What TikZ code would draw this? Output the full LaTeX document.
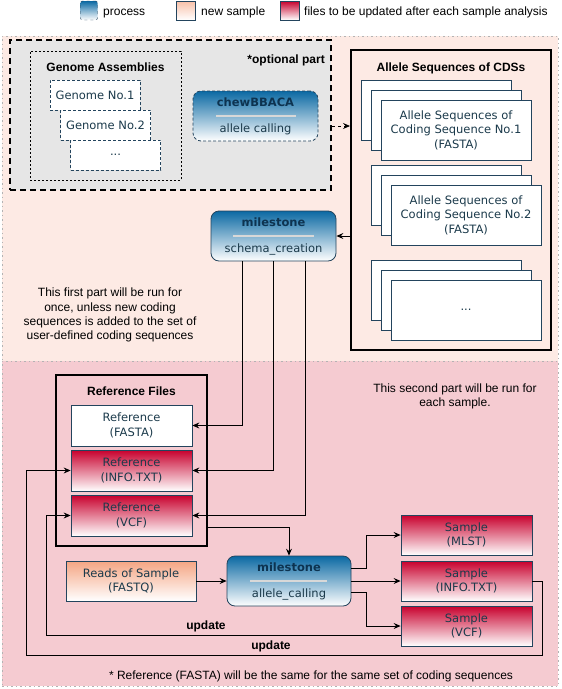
\documentclass[tikz,border=0pt]{standalone}
\usepackage{fontspec}
\setmainfont{Liberation Sans}
\newfontfamily\vfont{DejaVu Sans}
\usetikzlibrary{arrows.meta}
\definecolor{edgeC}{HTML}{23445D}
\definecolor{txtC}{HTML}{1B3A4B}
\definecolor{titC}{HTML}{0D3350}
\definecolor{blueT}{HTML}{0B69A3}
\definecolor{redT}{HTML}{C8002D}
\definecolor{orgT}{HTML}{F5A583}
\definecolor{topBg}{HTML}{FDEAE4}
\definecolor{botBg}{HTML}{F5CBD1}
\definecolor{grayBg}{HTML}{E6E6E6}
\definecolor{dotC}{HTML}{B3B3B3}
\definecolor{divC}{HTML}{D8D8D8}
\begin{document}
\begin{tikzpicture}[x=1pt,y=-1pt,
  lbl/.style={font=\fontsize{12}{14.2}\selectfont, align=center, inner sep=0},
  btitle/.style={font=\fontsize{12}{14.2}\selectfont\bfseries, align=center, inner sep=0},
  vtext/.style={font=\vfont\fontsize{11.5}{14.4}\selectfont, text=txtC, align=center},
  vtitle/.style={font=\vfont\bfseries\fontsize{11.5}{14.4}\selectfont, text=titC, inner sep=0},
  wbox/.style={draw=edgeC, fill=white, line width=0.8pt, inner sep=0, vtext},
  rbox/.style={draw=edgeC, top color=redT, bottom color=white, line width=0.8pt, inner sep=0, vtext},
  obox/.style={draw=edgeC, top color=orgT, bottom color=white, line width=0.8pt, inner sep=0, vtext},
  gbox/.style={wbox, dash pattern=on 3pt off 2pt, minimum width=90pt, minimum height=30pt},
  procbox/.style={draw=edgeC, top color=blueT, bottom color=white, line width=0.8pt, rounded corners=8pt, inner sep=0, minimum width=125pt, minimum height=50pt},
  stackbox/.style={wbox, minimum width=150pt, minimum height=60pt},
  refbox/.style={minimum width=121pt, minimum height=41pt},
  sampbox/.style={minimum width=131pt, minimum height=40pt},
  region/.style={draw=dotC, dash pattern=on 1.5pt off 3pt, line width=0.8pt, inner sep=0, minimum width=556pt, minimum height=325pt},
  container/.style={draw=black, line width=2pt, inner sep=0},
  arr/.style={-{Stealth[length=7pt,width=6pt,inset=2.5pt]}, line width=0.8pt},
  divider/.style={draw=divC, line width=1.2pt}
]
\useasboundingbox (0,0) rectangle (562,689);

% legend
\node[draw=edgeC, dashed, top color=blueT, bottom color=white, rounded corners=2pt, minimum width=17pt, minimum height=19pt, inner sep=0] (lgp) at (89,10.5) {};
\node[lbl, anchor=base west] (lgpt) at (103,15.5) {process};
\node[draw=edgeC, top color=orgT!70, bottom color=white, minimum width=19pt, minimum height=19pt, inner sep=0] (lgn) at (185.5,10.5) {};
\node[lbl, anchor=base west] (lgnt) at (201,15.5) {new sample};
\node[draw=edgeC, top color=redT, bottom color=white, minimum width=19pt, minimum height=19pt, inner sep=0] (lgr) at (290,10.5) {};
\node[lbl, anchor=base west] (lgrt) at (304,15.5) {files to be updated after each sample analysis};

% regions
\node[region, fill=topBg] (toppart) at (280,198.5) {};
\node[region, fill=botBg] (botpart) at (280,523.5) {};

% optional part
\node[draw=black, line width=2pt, dash pattern=on 6pt off 4pt, fill=grayBg, minimum width=321pt, minimum height=150pt, inner sep=0] (opt) at (170.5,115) {};
\node[btitle, anchor=east] (optt) at (325,60) {*optional part};
\node[draw=black, line width=0.8pt, dash pattern=on 2pt off 2pt, minimum width=151pt, minimum height=129pt, inner sep=0] (ga) at (105.5,115.5) {};
\node[btitle] (gat) at (105.5,67) {Genome Assemblies};
\node[gbox] (g1) at (95,95) {Genome No.1};
\node[gbox] (g2) at (105.5,125) {Genome No.2};
\node[gbox] (g3) at (115.5,155) {...};

\node[procbox, dash pattern=on 3pt off 2pt] (chew) at (255.5,116) {};
\node[vtitle] (chewt) at (255.5,102) {chewBBACA};
\draw[divider] (216,116) -- (296,116);
\node[vtext, inner sep=0] (chews) at (255.5,129) {allele calling};

% CDS container
\node[container, fill=topBg, minimum width=200pt, minimum height=300pt] (cds) at (451,200) {};
\node[btitle] (cdst) at (451,68) {Allele Sequences of CDSs};
\node[stackbox] (s1a) at (436,110) {};
\node[stackbox] (s1b) at (446,120) {};
\node[stackbox] (s1c) at (456,130) {Allele Sequences of\\Coding Sequence No.1\\(FASTA)};
\node[stackbox] (s2a) at (446,195) {};
\node[stackbox] (s2b) at (456,205) {};
\node[stackbox] (s2c) at (466,215) {Allele Sequences of\\Coding Sequence No.2\\(FASTA)};
\node[stackbox] (s3a) at (446,290) {};
\node[stackbox] (s3b) at (456,300) {};
\node[stackbox] (s3c) at (466,310) {...};

\coordinate (yopt) at (0,126);
\draw[arr, dashed] (opt.east |- yopt) -- (cds.west |- yopt);

% schema creation
\node[procbox] (schema) at (273.5,236) {};
\node[vtitle] (schemat) at (273.5,222) {milestone};
\draw[divider] (233,236) -- (314,236);
\node[vtext, inner sep=0] (schemas) at (273.5,249) {schema\_creation};
\draw[arr] (cds.west |- schema.east) -- (schema.east);

\node[lbl] (note1) at (110,315) {This first part will be run for\\once, unless new coding\\sequences is added to the set of\\user-defined coding sequences};

% Reference files
\node[container, minimum width=151pt, minimum height=171pt] (reffiles) at (131.5,460.5) {};
\node[btitle] (reft) at (131.5,391) {Reference Files};
\node[wbox, refbox] (rfasta) at (131.5,425.5) {Reference\\(FASTA)};
\node[rbox, refbox] (rinfo) at (131.5,470.5) {Reference\\(INFO.TXT)};
\node[rbox, refbox] (rvcf) at (131.5,515.5) {Reference\\(VCF)};

\draw[arr] ([xshift=-31.5pt]schema.south) |- (rfasta.east);
\draw[arr] (schema.south) |- (rinfo.east);
\draw[arr] ([xshift=31.5pt]schema.south) |- (rvcf.east);

\node[lbl] (note2) at (455,396) {This second part will be run for\\each sample.};

% allele calling
\node[obox, minimum width=130pt, minimum height=40pt] (reads) at (131,581) {Reads of Sample\\(FASTQ)};
\node[procbox, minimum width=124pt] (allele) at (289,581) {};
\node[vtitle] (allelet) at (289,567) {milestone};
\draw[divider] (250,581) -- (327,581);
\node[vtext, inner sep=0] (alleles) at (289,594) {allele\_calling};

\coordinate (y527) at (0,527);
\draw[arr] (reffiles.east |- y527) -| (allele.north);
\draw[arr] (reads.east) -- (allele.west);

\node[rbox, sampbox] (smlst) at (466.5,535) {Sample\\(MLST)};
\node[rbox, sampbox] (sinfo) at (466.5,581) {Sample\\(INFO.TXT)};
\node[rbox, sampbox] (svcf) at (466.5,626) {Sample\\(VCF)};

\draw[arr] ([yshift=13pt]allele.east) -- ++(15pt,0) |- (smlst.west);
\draw[arr] (allele.east) -- (sinfo.west);
\draw[arr] ([yshift=-11pt]allele.east) -- ++(15pt,0) |- (svcf.west);

\coordinate (u1) at (46,635);
\draw[arr] ([yshift=-9pt]svcf.west) -- (u1) |- (rvcf.west);
\coordinate (u2a) at (542,655);
\coordinate (u2b) at (26,655);
\draw[arr] (sinfo.east) -| (u2a) -- (u2b) |- (rinfo.west);
\node[btitle] (upd1) at (206,626) {update};
\node[btitle] (upd2) at (271,646) {update};

\node[lbl] (foot) at (311,676) {* Reference (FASTA) will be the same for the same set of coding sequences};
\end{tikzpicture}
\end{document}
